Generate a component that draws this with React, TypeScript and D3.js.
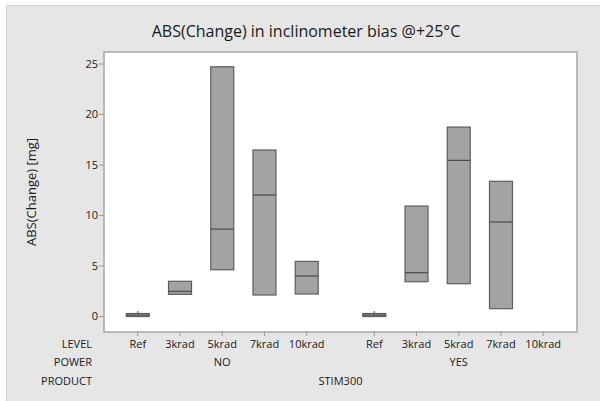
import React from "react";
import * as d3 from "d3";

const levels = ["Ref", "3krad", "5krad", "7krad", "10krad"];
const powers = ["NO", "YES"];
const product = "STIM300";
// per box: [power, level, q1, median, q3, whiskerMin, whiskerMax]
const powerOf = ["NO", "NO", "NO", "NO", "YES", "YES", "YES", "YES"];
const levelOf = ["Ref", "3krad", "5krad", "7krad", "10krad", "Ref", "3krad", "5krad", "7krad"].filter((_, i) => i !== 4);
const q1 = [0.0, 2.2, 4.63, 2.13, 2.23, 0.0, 3.45, 3.25, 0.78];
const med = [0.15, 2.5, 8.66, 12.03, 4.01, 0.15, 4.34, 15.46, 9.36];
const q3 = [0.3, 3.49, 24.73, 16.49, 5.46, 0.3, 10.94, 18.76, 13.39];
const wMax = [0.55, 3.49, 24.73, 16.49, 5.46, 0.55, 10.94, 18.76, 13.39];
const boxPower = ["NO", "NO", "NO", "NO", "NO", "YES", "YES", "YES", "YES"];
const boxLevel = ["Ref", "3krad", "5krad", "7krad", "10krad", "Ref", "3krad", "5krad", "7krad"];
const yTicks = [0, 5, 10, 15, 20, 25];

const W = 600, H = 401;
const left = 104, right = 577, top = 52, bottom = 332;
const groupGap = 1.6;

export default function App() {
  void powerOf; void levelOf;
  const slot = (p: string, l: string) =>
    powers.indexOf(p) * (levels.length - 1 + groupGap) + levels.indexOf(l);
  const lastSlot = slot(powers[powers.length - 1], levels[levels.length - 1]);
  const x = d3.scaleLinear().domain([-0.8, lastSlot + 0.8]).range([left, right]);
  const y = d3.scaleLinear().domain([-1.53, 26.19]).range([bottom, top]);
  const bw = 23;
  const font = "'Open Sans', 'Noto Sans', sans-serif";
  const col = "#1a1a1a";

  return (
    <svg width={W} height={H} style={{ position: "absolute", left: 0, top: 0 }} fontFamily={font}>
      <rect x={0} y={0} width={W} height={H} fill="#ffffff" />
      <rect x={6.5} y={5.5} width={W - 6} height={H - 5} fill="#e6e6e6" stroke="#d4d4d4" />
      <text x={306} y={37} textAnchor="middle" fontSize={16} fill={col}>
        ABS(Change) in inclinometer bias @+25°C
      </text>
      <rect x={left} y={top} width={right - left} height={bottom - top} fill="#ffffff" stroke="#a8a8a8" strokeWidth={1.5} />
      {yTicks.map((t) => (
        <g key={t}>
          <line x1={left - 5} x2={left} y1={y(t)} y2={y(t)} stroke="#9a9a9a" />
          <text x={left - 6} y={y(t)} dy="0.35em" textAnchor="end" fontSize={11} fill={col}>{t}</text>
        </g>
      ))}
      <text transform={`translate(36,${(top + bottom) / 2 + 0}) rotate(-90)`} textAnchor="middle" fontSize={13} fill={col}>
        ABS(Change) [mg]
      </text>
      {powers.map((p) =>
        levels.map((l) => (
          <g key={p + l}>
            <line x1={x(slot(p, l))} x2={x(slot(p, l))} y1={bottom} y2={bottom + 4} stroke="#9a9a9a" />
            <text x={x(slot(p, l))} y={344} dy="0.35em" textAnchor="middle" fontSize={11} fill={col}>{l}</text>
          </g>
        ))
      )}
      {powers.map((p) => (
        <text key={p} x={x(slot(p, levels[2]))} y={362} dy="0.35em" textAnchor="middle" fontSize={11} fill={col}>{p}</text>
      ))}
      <text x={(x(slot(powers[0], levels[0])) + x(lastSlot)) / 2} y={381} dy="0.35em" textAnchor="middle" fontSize={11} fill={col}>{product}</text>
      <text x={92} y={344} dy="0.35em" textAnchor="end" fontSize={11} fill={col}>LEVEL</text>
      <text x={92} y={362} dy="0.35em" textAnchor="end" fontSize={11} fill={col}>POWER</text>
      <text x={92} y={381} dy="0.35em" textAnchor="end" fontSize={11} fill={col}>PRODUCT</text>
      {boxLevel.map((l, i) => {
        const cx = x(slot(boxPower[i], l));
        return (
          <g key={i}>
            <line x1={cx} x2={cx} y1={y(q3[i])} y2={y(wMax[i])} stroke="#555" strokeWidth={1} />
            <rect x={cx - bw / 2} y={y(q3[i])} width={bw} height={y(q1[i]) - y(q3[i])} fill="#a3a3a3" stroke="#5e5e5e" strokeWidth={1.2} />
            <line x1={cx - bw / 2} x2={cx + bw / 2} y1={y(med[i])} y2={y(med[i])} stroke="#4a4a4a" strokeWidth={1.2} />
          </g>
        );
      })}
    </svg>
  );
}
